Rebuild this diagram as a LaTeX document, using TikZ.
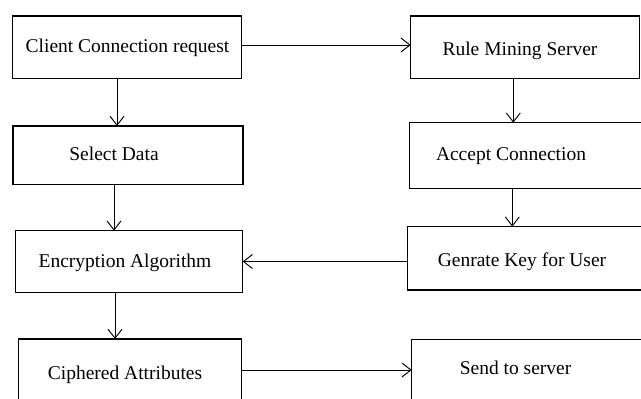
\documentclass[tikz,border=0pt]{standalone}
\usepackage{fontspec}
\setmainfont{Liberation Serif}
\usetikzlibrary{arrows.meta}
\tikzset{
  box/.style={draw, line width=1.05pt, inner sep=0pt, outer sep=0pt},
  txt/.style={anchor=base, inner sep=0pt, font=\fontsize{19.5}{22}\selectfont},
  arr/.style={draw, line width=0.95pt, -{Straight Barb[length=9pt,width=14pt,line width=0.95pt]}}
}
\begin{document}
\begin{tikzpicture}[x=1pt,y=-1pt]
\useasboundingbox (0,0) rectangle (641,399);
\clip (0,0) rectangle (641,399);
\fill[white] (0,0) rectangle (641,399);

% left column
\node[box, minimum width=229pt, minimum height=62.7pt] (cc) at (127.2,47.35) {};
\node[box, minimum width=230pt, minimum height=58.3pt] (sd) at (128,155.15) {};
\node[box, minimum width=227pt, minimum height=61.6pt] (enc) at (129.2,261.5) {};
\node[box, minimum width=223.4pt, minimum height=81pt] (ciph) at (130,379.5) {};

% right column
\node[box, minimum width=228.6pt, minimum height=62.7pt] (rm) at (525,47.35) {};
\node[box, minimum width=250.7pt, minimum height=65.6pt] (acc) at (534.65,155.5) {};
\node[box, minimum width=252.3pt, minimum height=63.3pt] (gk) at (533.85,258.35) {};
\node[box, minimum width=248.3pt, minimum height=80.7pt] (send) at (535.85,379.65) {};

% texts
\node[txt] (ccT) at (127.5,52.7) {Client Connection request};
\node[txt] (sdT) at (114,160) {Select Data};
\node[txt] (encT) at (125,267.7) {Encryption Algorithm};
\node[txt] (ciphT) at (125,379.3) {Ciphered Attributes};
\node[txt] (rmT) at (520,55) {Rule Mining Server};
\node[txt] (accT) at (511,160) {Accept Connection};
\node[txt] (gkT) at (522,266) {Genrate Key for User};
\node[txt] (sendT) at (515.6,374) {Send to server};

% connector guide positions
\coordinate (xl1) at (117,0);
\coordinate (xl2) at (114,0);
\coordinate (xl3) at (115,0);
\coordinate (xr1) at (513.3,0);
\coordinate (xr2) at (512.3,0);
\coordinate (yt) at (0,45);
\coordinate (yb) at (0,370);

% connectors
\draw[arr] (cc.east |- yt) -- (rm.west |- yt);
\draw[arr] (cc.south -| xl1) -- (sd.north -| xl1);
\draw[arr] (sd.south -| xl2) -- (enc.north -| xl2);
\draw[arr] (enc.south -| xl3) -- (ciph.north -| xl3);
\draw[arr] (rm.south -| xr1) -- (acc.north -| xr1);
\draw[arr] (acc.south -| xr2) -- (gk.north -| xr2);
\draw[arr] (enc.east -| gk.west) -- (enc.east);
\draw[arr] (ciph.east |- yb) -- (send.west |- yb);
\end{tikzpicture}
\end{document}
